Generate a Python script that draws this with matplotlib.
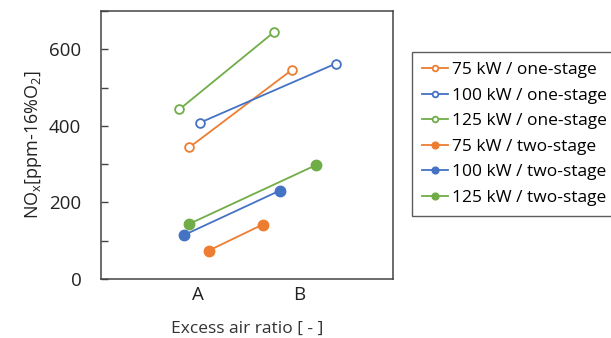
import matplotlib.pyplot as plt
from matplotlib.ticker import MultipleLocator

plt.rcParams['font.family'] = ['Open Sans', 'DejaVu Sans']

# データ (x位置はカテゴリA=1, B=2 を基準に読み取り)
labels = ['75 kW / one-stage', '100 kW / one-stage', '125 kW / one-stage',
          '75 kW / two-stage', '100 kW / two-stage', '125 kW / two-stage']
colors = ['#ED7D31', '#4472C4', '#70AD47', '#ED7D31', '#4472C4', '#70AD47']
filled = [False, False, False, True, True, True]

x_vals = [
    [0.92, 1.93],
    [1.02, 2.36],
    [0.82, 1.75],
    [1.11, 1.64],
    [0.87, 1.81],
    [0.92, 2.16],
]
nox_vals = [
    [344, 547],
    [408, 563],
    [443, 645],
    [74, 142],
    [115, 231],
    [144, 297],
]
cat_ticks = [1, 2]
cat_labels = ['A', 'B']

fig = plt.figure(figsize=(6.11, 3.38), dpi=100)
ax = fig.add_axes([0.165, 0.175, 0.478, 0.792])

for lab, c, f, xs, ys in zip(labels, colors, filled, x_vals, nox_vals):
    if f:
        ax.plot(xs, ys, '-', color=c, lw=1.3, marker='o', markersize=7.5,
                markerfacecolor=c, markeredgecolor=c, label=lab)
    else:
        ax.plot(xs, ys, '-', color=c, lw=1.3, marker='o', markersize=6.3,
                markerfacecolor='white', markeredgecolor=c, markeredgewidth=1.3,
                label=lab)

ax.set_xlim(0.048, 2.92)
ax.set_ylim(0, 700)
ax.set_xticks(cat_ticks)
ax.set_xticklabels(cat_labels)
ax.yaxis.set_major_locator(MultipleLocator(200))
ax.yaxis.set_minor_locator(MultipleLocator(100))
ax.tick_params(axis='x', length=0, labelsize=13.5, pad=5, colors='#222222')
ax.tick_params(axis='y', which='both', direction='in', length=5, width=1,
               labelsize=13.5, colors='#444444', labelcolor='#222222', pad=14)
ax.yaxis.get_major_ticks()[0].tick1line.set_visible(False)

for s in ax.spines.values():
    s.set_color('#444444')
    s.set_linewidth(1.1)

ax.set_ylabel(r'NO$_\mathregular{x}$[ppm-16%O$_\mathregular{2}$]', fontsize=13,
              color='#222222', labelpad=4)
ax.set_xlabel('Excess air ratio [ - ]', fontsize=12.5, color='#333333', labelpad=12)

leg = fig.legend(loc='upper left', bbox_to_anchor=(0.674, 0.847), fontsize=12.5,
                 frameon=True, fancybox=False, handlelength=1.5, handletextpad=0.2,
                 labelspacing=0.54, borderpad=0.6, borderaxespad=0,
                 markerscale=0.65)
leg.get_frame().set_edgecolor('#333333')
leg.get_frame().set_linewidth(1.0)

fig.savefig('out.png', dpi=100)
